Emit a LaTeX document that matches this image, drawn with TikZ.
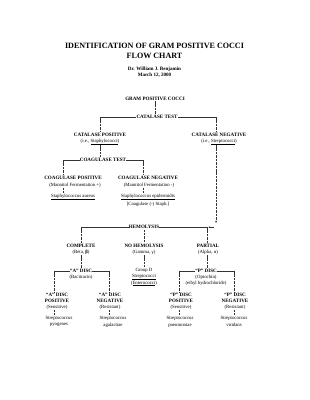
\documentclass[tikz,border=0pt]{standalone}
\usepackage{fontspec}
\setmainfont{Liberation Serif}
\usetikzlibrary{arrows.meta}
\begin{document}
\begin{tikzpicture}[x=1.9806pt,y=-1.9806pt,
  every node/.style={inner sep=0.5pt, anchor=center},
  ttl/.style={font=\bfseries\fontsize{16}{18}\selectfont},
  auth/.style={font=\bfseries\fontsize{10}{11}\selectfont},
  hd/.style={font=\bfseries\fontsize{10}{11}\selectfont},
  sm/.style={font=\fontsize{9.5}{10}\selectfont},
  vl/.style={draw=black!80, line width=1.1pt, dash pattern=on 5pt off 1.8pt},
  hline/.style={draw=black!80, line width=1.8pt},
  arr/.style={-{Stealth[length=4.5pt,width=3.5pt]}}]
\useasboundingbox (0,0) rectangle (309,400);
\fill[white] (0,0) rectangle (309,400);
% title
\node[ttl] (t1) at (154.5,46) {IDENTIFICATION OF GRAM POSITIVE COCCI};
\node[ttl] (t2) at (154.5,56) {FLOW CHART};
\node[auth] (au) at (154.5,69) {Dr. William J. Benjamin};
\node[auth] (da) at (154.5,75) {March 12, 2000};
% top
\node[hd] (gpc) at (155,99) {GRAM POSITIVE COCCI};
\node[hd] (cat) at (157,117) {CATALASE TEST};
\coordinate (cL) at (100,117);
\coordinate (cR) at (216,117);
\node[hd] (catpos) at (100,135) {CATALASE POSITIVE};
\node[sm] (catposi) at (100,142) {(i.e., \underline{Staphylococci})};
\node[hd] (catneg) at (219,135) {CATALASE NEGATIVE};
\node[sm] (catnegi) at (219,142) {(i.e., \underline{Streptococci})};
\coordinate (cLb) at (100,132);
\coordinate (cRb) at (216,132);
\draw[vl] (gpc.south) -- (gpc.south |- cat.north);
\draw[hline] (cat.west) -- (cL);
\draw[hline] (cat.east) -- (cR);
\draw[vl] (cL) -- (cLb);
\draw[vl] (cR) -- (cRb);
% coagulase
\node[hd] (coag) at (103,160) {COAGULASE TEST};
\coordinate (kL) at (63,160);
\coordinate (kR) at (143,160);
\coordinate (kLb) at (63,175);
\coordinate (kRb) at (143,175);
\coordinate (kLc) at (63,187.5);
\coordinate (kLd) at (63,193.5);
\coordinate (kRc) at (143,187.5);
\coordinate (kRd) at (143,193.5);
\coordinate (cpa) at (100,145);
\coordinate (cpb) at (100,157);
\draw[vl] (cpa) -- (cpb);
\draw[hline] (coag.west) -- (kL);
\draw[hline] (coag.east) -- (kR);
\node[hd] (coagpos) at (73,178) {COAGULASE POSITIVE};
\node[sm] (coagposm) at (75,185) {(Mannitol Fermentation +)};
\node[sm] (saur) at (73,197) {\underline{Staphylococcus aureus}};
\node[hd] (coagneg) at (148,178) {COAGULASE NEGATIVE};
\node[sm] (coagnegm) at (149,185) {(Mannitol Fermentation -)};
\node[sm] (sepi) at (148,197) {\underline{Staphylococcus epidermidis}};
\node[sm] (sepic) at (148,204) {[Coagulase (-) Staph.]};
\draw[vl] (kL) -- (kLb);
\draw[vl] (kR) -- (kRb);
\draw[vl] (kLc) -- (kLd);
\draw[vl] (kRc) -- (kRd);
% hemolysis
\node[hd] (hem) at (144,227) {HEMOLYSIS};
\coordinate (hL) at (81,227);
\coordinate (hR) at (207,227);
\coordinate (cnTop) at (216,145);
\coordinate (cnEnd) at (216,223);
\coordinate (la1) at (213.5,227);
\coordinate (la2) at (208.5,227);
\draw[vl,arr] (cnTop) -- (cnEnd);
\draw[hline] (hem.west) -- (hL);
\draw[hline] (hem.east) -- (hR);
\draw[draw=black!80, line width=0.8pt,-{Stealth[length=2.5pt,width=2.5pt]}] (la1) -- (la2);
\node[hd] (comp) at (81,246) {COMPLETE};
\node[sm] (beta) at (81,252) {(Beta, \textbf{β})};
\node[hd] (nohem) at (144,246) {NO HEMOLYSIS};
\node[sm] (gamma) at (144,252) {(Gamma, γ)};
\node[hd] (part) at (208,246) {PARTIAL};
\node[sm] (alpha) at (208,252) {(Alpha, α)};
\coordinate (hLb) at (81,243);
\coordinate (hMa) at (144,229.5);
\coordinate (hMb) at (144,243);
\coordinate (hRb) at (207,243);
\draw[vl] (hL) -- (hLb);
\draw[vl] (hMa) -- (hMb);
\draw[vl] (hR) -- (hRb);
% A disc
\node[hd] (adisc) at (81,271) {“A” DISC};
\node[sm] (bac) at (81,277) {(Bacitracin)};
\coordinate (aL) at (54,271);
\coordinate (aR) at (109,271);
\coordinate (aTa) at (81,255);
\coordinate (aTb) at (81,268);
\draw[vl] (aTa) -- (aTb);
\draw[hline] (adisc.west) -- (aL);
\draw[hline] (adisc.east) -- (aR);
\node[hd] (apos1) at (57,295) {“A” DISC};
\node[hd] (apos2) at (57,301) {POSITIVE};
\node[sm] (apos3) at (57,307) {(Sensitive)};
\node[sm] (spy1) at (59,318) {Streptococcus};
\node[sm] (spy2) at (59,325) {pyogenes};
\node[hd] (aneg1) at (110,295) {“A” DISC};
\node[hd] (aneg2) at (110,301) {NEGATIVE};
\node[sm] (aneg3) at (110,307) {(Resistant)};
\node[sm] (sag1) at (113,318) {Streptococcus};
\node[sm] (sag2) at (113,325) {agalactiae};
\coordinate (aLb) at (54,292);
\coordinate (aRb) at (109,292);
\coordinate (aLc) at (54,309.5);
\coordinate (aLd) at (54,315);
\coordinate (aRc) at (109,309.5);
\coordinate (aRd) at (109,315);
\draw[vl] (aL) -- (aLb);
\draw[vl] (aR) -- (aRb);
\draw[vl] (aLc) -- (aLd);
\draw[vl] (aRc) -- (aRd);
% group D
\node[sm] (gd1) at (144,270) {Group D};
\node[sm] (gd2) at (144,277) {\underline{Streptococci}};
\node[sm] (gd3) at (144,283) {(\underline{Enterococci})};
\coordinate (gTa) at (144,255);
\coordinate (gTb) at (144,267);
\draw[vl] (gTa) -- (gTb);
% P disc
\node[hd] (pdisc) at (206,271) {“P” DISC};
\node[sm] (opt) at (206,277) {(Optochin)};
\node[sm] (eth) at (206,283) {(ethyl hydrochloride)};
\coordinate (pL) at (179,271);
\coordinate (pR) at (234,271);
\coordinate (pTa) at (207,255);
\coordinate (pTb) at (207,268);
\draw[vl] (pTa) -- (pTb);
\draw[hline] (pdisc.west) -- (pL);
\draw[hline] (pdisc.east) -- (pR);
\node[hd] (ppos1) at (181,295) {“P” DISC};
\node[hd] (ppos2) at (181,301) {POSITIVE};
\node[sm] (ppos3) at (181,307) {(Sensitive)};
\node[sm] (spn1) at (180,318) {Streptococcus};
\node[sm] (spn2) at (180,325) {pneumoniae};
\node[hd] (pneg1) at (235,295) {“P” DISC};
\node[hd] (pneg2) at (235,301) {NEGATIVE};
\node[sm] (pneg3) at (235,307) {(Resistant)};
\node[sm] (svi1) at (234,318) {Streptococcus};
\node[sm] (svi2) at (234,325) {viridans};
\coordinate (pLb) at (179,292);
\coordinate (pRb) at (234,292);
\coordinate (pLc) at (179,309.5);
\coordinate (pLd) at (179,315);
\coordinate (pRc) at (234,309.5);
\coordinate (pRd) at (234,315);
\draw[vl] (pL) -- (pLb);
\draw[vl] (pR) -- (pRb);
\draw[vl] (pLc) -- (pLd);
\draw[vl] (pRc) -- (pRd);
\end{tikzpicture}
\end{document}
